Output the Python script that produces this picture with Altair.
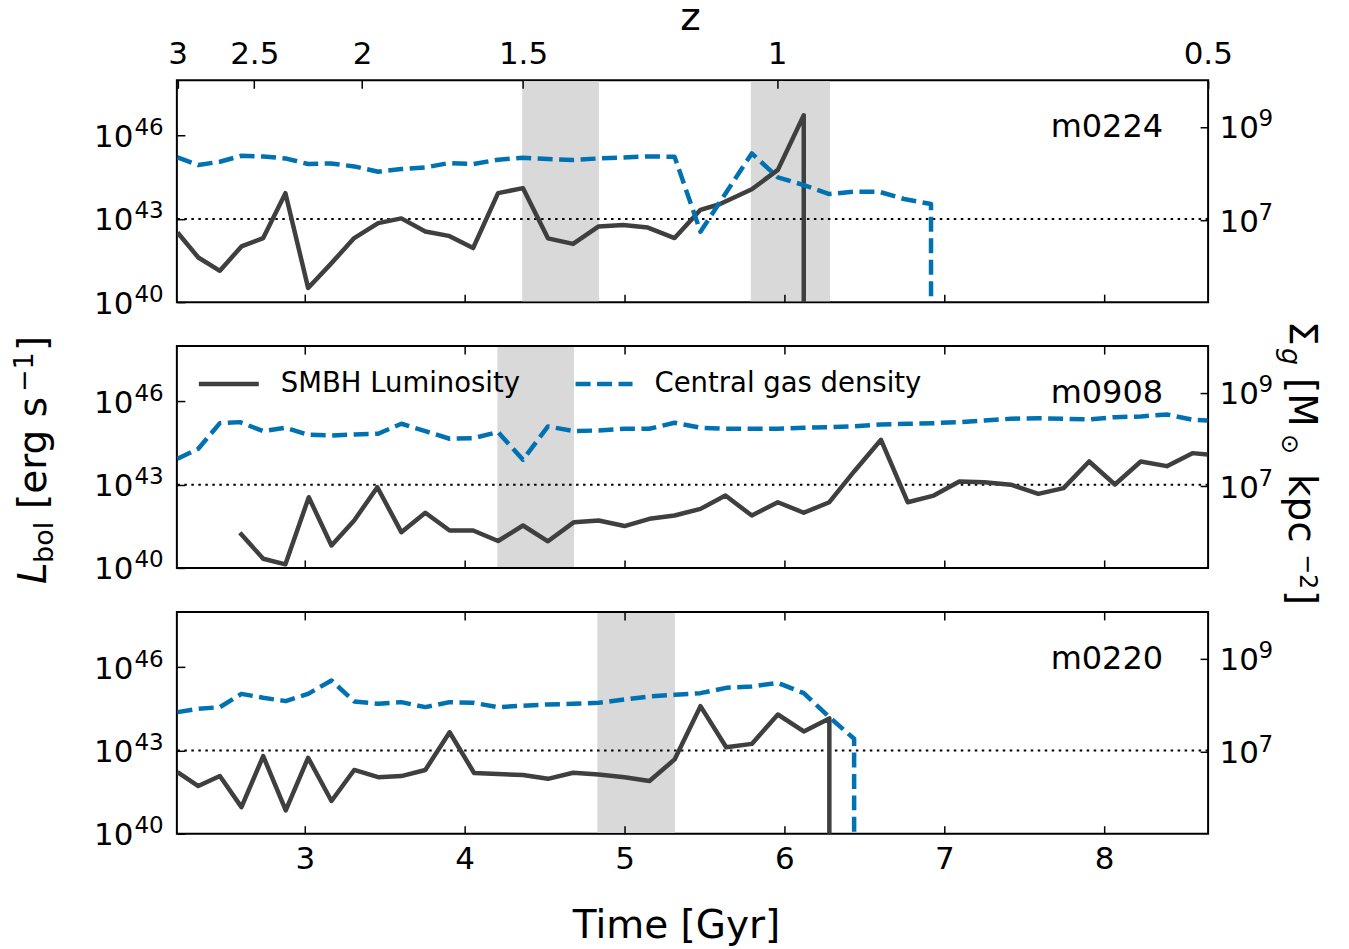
import altair as alt
import pandas as pd

FONT = "DejaVu Sans"
DARK = "#3f3f3f"
BLUE = "#0072b2"
BAND = "#d9d9d9"

# ---------------- data ----------------
# m0224
t_L_m0224 = [2.204, 2.334, 2.469, 2.604, 2.74, 2.879, 3.021, 3.163, 3.309, 3.459, 3.604, 3.754, 3.9, 4.053,
             4.209, 4.365, 4.521, 4.678, 4.838, 4.99, 5.146, 5.313, 5.475, 5.594, 5.796, 5.959, 6.121]
logL_m0224 = [42.51, 41.61, 41.13, 42.01, 42.31, 43.93, 40.51, 41.38, 42.31, 42.85, 43.02, 42.55, 42.39, 41.95,
              43.93, 44.11, 42.30, 42.10, 42.73, 42.78, 42.69, 42.31, 43.33, 43.53, 44.07, 44.77, 46.74]
t_S_m0224 = [2.204, 2.334, 2.469, 2.604, 2.74, 2.879, 3.021, 3.163, 3.309, 3.459, 3.604, 3.754, 3.9, 4.053,
             4.209, 4.365, 4.521, 4.678, 4.838, 4.99, 5.146, 5.313, 5.475, 5.796, 5.959, 6.121, 6.281, 6.436,
             6.592, 6.748, 6.917]
logS_m0224 = [8.348, 8.185, 8.256, 8.384, 8.369, 8.327, 8.207, 8.22, 8.156, 8.042, 8.10, 8.134, 8.228, 8.207,
              8.299, 8.34, 8.314, 8.292, 8.327, 8.348, 8.369, 8.363, 6.758, 8.434, 7.92, 7.757, 7.565, 7.614,
              7.614, 7.458, 7.351]

# m0908
t_L_m0908 = [2.594, 2.74, 2.879, 3.025, 3.167, 3.309, 3.454, 3.604, 3.754, 3.906, 4.053, 4.209, 4.365, 4.521,
             4.684, 4.838, 5.0, 5.156, 5.313, 5.475, 5.631, 5.796, 5.959, 6.121, 6.281, 6.436, 6.604, 6.771,
             6.934, 7.094, 7.25, 7.417, 7.588, 7.746, 7.906, 8.067, 8.229, 8.392, 8.552, 8.646]
logL_m0908 = [41.27, 40.33, 40.13, 42.55, 40.81, 41.71, 42.91, 41.29, 41.99, 41.35, 41.35, 40.97, 41.53, 40.96,
              41.65, 41.71, 41.51, 41.77, 41.89, 42.13, 42.61, 41.89, 42.37, 41.99, 42.37, 43.48, 44.62, 42.37,
              42.61, 43.12, 43.09, 43.0, 42.67, 42.88, 43.84, 43.01, 43.84, 43.67, 44.14, 44.09]
t_S_m0908 = [2.204, 2.334, 2.469, 2.594, 2.74, 2.879, 3.021, 3.167, 3.309, 3.459, 3.604, 3.754, 3.906, 4.053,
             4.209, 4.365, 4.521, 4.684, 4.838, 5.0, 5.156, 5.313, 5.475, 5.631, 5.796, 5.959, 6.121, 6.281,
             6.436, 6.604, 6.771, 6.934, 7.094, 7.25, 7.417, 7.588, 7.746, 7.906, 8.067, 8.229, 8.392, 8.552,
             8.646]
logS_m0908 = [7.588, 7.802, 8.35, 8.372, 8.179, 8.252, 8.102, 8.087, 8.108, 8.123, 8.337, 8.179, 8.016, 8.029,
              8.158, 7.567, 8.28, 8.179, 8.194, 8.23, 8.23, 8.359, 8.252, 8.23, 8.23, 8.23, 8.252, 8.265,
              8.28, 8.322, 8.337, 8.35, 8.372, 8.408, 8.444, 8.457, 8.444, 8.429, 8.479, 8.493, 8.536, 8.423,
              8.408]

# m0220
t_L_m0220 = [2.204, 2.334, 2.469, 2.604, 2.74, 2.881, 3.021, 3.167, 3.309, 3.459, 3.604, 3.754, 3.906, 4.059,
             4.209, 4.365, 4.521, 4.678, 4.838, 5.0, 5.156, 5.313, 5.475, 5.636, 5.796, 5.959, 6.121, 6.281]
logL_m0220 = [42.22, 41.72, 42.08, 40.96, 42.80, 40.84, 42.74, 41.18, 42.30, 42.04, 42.08, 42.30, 43.66, 42.19,
              42.15, 42.12, 41.98, 42.20, 42.14, 42.04, 41.90, 42.68, 44.60, 43.12, 43.24, 44.30, 43.69, 44.16]
t_S_m0220 = [2.204, 2.334, 2.469, 2.604, 2.74, 2.881, 3.021, 3.167, 3.309, 3.459, 3.604, 3.754, 3.906, 4.053,
             4.209, 4.365, 4.521, 4.678, 4.838, 5.0, 5.156, 5.313, 5.475, 5.636, 5.796, 5.959, 6.121, 6.281,
             6.436]
logS_m0220 = [7.854, 7.924, 7.961, 8.245, 8.16, 8.089, 8.245, 8.532, 8.083, 8.031, 8.068, 7.961, 8.068, 8.053,
              7.961, 7.99, 8.019, 8.031, 8.053, 8.125, 8.19, 8.224, 8.26, 8.374, 8.404, 8.481, 8.26, 7.747,
              7.283]

# series that fall to zero at their last snapshot (drawn as a drop off the bottom)
drop_L = {"m0224": True, "m0908": False, "m0220": True}
drop_S = {"m0224": True, "m0908": False, "m0220": True}

# shaded intervals
band_halo = ["m0224", "m0224", "m0908", "m0220"]
band_start = [4.36, 5.79, 4.205, 4.83]
band_end = [4.84, 6.285, 4.684, 5.315]

# axes
time_ticks = [3, 4, 5, 6, 7, 8]
z_labels = ["3", "2.5", "2", "1.5", "1", "0.5"]
z_times = [2.204, 2.684, 3.359, 4.365, 5.954, 8.648]
L_ticks = [1e40, 1e43, 1e46]
L_exp = ["40", "43", "46"]
S_ticks = [1e7, 1e9]
S_exp = ["7", "9"]
L_threshold = 1e43

# ---------------- layout ----------------
W, H = 1032, 222
LW = 4.5
DROP = 1e-30
xscale = alt.Scale(domain=[2.2, 8.65], nice=False, zero=False)
Lscale = alt.Scale(type="log", domain=[1e40, 1e48], nice=False)
Sscale = alt.Scale(type="log", domain=[10 ** 5.25, 1e10], nice=False)


def cond_expr(values, labels, geometric=False):
    expr = f"'{labels[-1]}'"
    pairs = list(zip(values[:-1], values[1:], labels[:-1]))
    for lo, hi, lab in reversed(pairs):
        mid = (lo * hi) ** 0.5 if geometric else (lo + hi) / 2
        expr = f"(datum.value < {mid!r} ? '{lab}' : {expr})"
    return expr


def mk_axis(orient, values, labels=True, ticks=True, expr=None, size=31, pad=12, align=None, loffset=None):
    kw = dict(orient=orient, values=values, domain=False, grid=False, title=None, zindex=1,
              labels=labels, ticks=ticks, labelFont=FONT, labelFontSize=size, labelColor="black",
              labelPadding=pad, labelFlush=False, labelOverlap=False)
    if ticks:
        kw.update(tickSize=8, offset=-8, tickWidth=1.5, tickColor="black")
    else:
        kw.update(tickSize=0, offset=0)
    if expr:
        kw["labelExpr"] = expr
    if align:
        kw["labelAlign"] = align
    if loffset is not None:
        kw["labelOffset"] = loffset
    return alt.Axis(**kw)


L_axis = mk_axis("left", L_ticks, expr="'10'", pad=44, loffset=2)
L_exp_axis = mk_axis("left", L_ticks, ticks=False, expr=cond_expr(L_ticks, L_exp, True), size=23,
                     pad=43, align="left", loffset=-8)
S_axis = mk_axis("right", S_ticks, expr="'10'", pad=11, loffset=2)
S_exp_axis = mk_axis("right", S_ticks, ticks=False, expr=cond_expr(S_ticks, S_exp, True), size=23,
                     pad=50, align="left", loffset=-8)
z_axis = mk_axis("top", z_times, expr=cond_expr(z_times, z_labels), pad=10)
top_time_axis = mk_axis("top", time_ticks, labels=False)


def bottom_axis(labels):
    return mk_axis("bottom", time_ticks, labels=labels, pad=11)


def series(times, logs, drop):
    t = list(times)
    v = [10.0 ** x for x in logs]
    if drop:
        t.append(times[-1])
        v.append(DROP)
    return pd.DataFrame({"t": t, "v": v, "i": list(range(len(t)))})


def text_layer(s, x, y, size, angle=0, align="left", baseline="alphabetic", style="normal"):
    return alt.Chart(pd.DataFrame({"s": [s]})).mark_text(
        font=FONT, fontSize=size, angle=angle, align=align, baseline=baseline,
        fontStyle=style, color="black").encode(x=alt.value(x), y=alt.value(y), text="s:N")


def rule_layer(x, x2, y, y2, color, width, dash=None, opacity=1.0):
    kw = dict(color=color, strokeWidth=width, opacity=opacity)
    if dash:
        kw["strokeDash"] = dash
    return alt.Chart(pd.DataFrame({"k": [0]})).mark_rule(**kw).encode(
        x=alt.value(x), x2=alt.value(x2), y=alt.value(y), y2=alt.value(y2))


bands_df = pd.DataFrame({"halo": band_halo, "start": band_start, "end": band_end})


def panel(name, tL, logL, tS, logS, top_axis, bottom_labels, extras):
    L_df = series(tL, logL, drop_L[name])
    S_df = series(tS, logS, drop_S[name])
    bands = alt.Chart(bands_df[bands_df.halo == name]).mark_rect(color=BAND).encode(
        x=alt.X("start:Q", scale=xscale, axis=top_axis), x2="end:Q",
        y=alt.value(1), y2=alt.value(H - 1))
    thresh = alt.Chart(pd.DataFrame({"v": [L_threshold]})).mark_rule(
        color="black", strokeWidth=2, strokeDash=[2.5, 4.5]).encode(
        y=alt.Y("v:Q", scale=Lscale, axis=L_exp_axis))
    Lline = alt.Chart(L_df).mark_line(color=DARK, strokeWidth=LW, clip=True, strokeJoin="round").encode(
        x=alt.X("t:Q", scale=xscale, axis=bottom_axis(bottom_labels)),
        y=alt.Y("v:Q", scale=Lscale, axis=L_axis), order="i:Q")
    Sline = alt.Chart(S_df).mark_line(color=BLUE, strokeWidth=LW, strokeDash=[15, 6.5], clip=True,
                                      strokeJoin="round").encode(
        x=alt.X("t:Q", scale=xscale, axis=None),
        y=alt.Y("v:Q", scale=Sscale, axis=S_axis), order="i:Q")
    Sexp = alt.Chart(pd.DataFrame({"v": S_ticks})).mark_point(opacity=0).encode(
        y=alt.Y("v:Q", scale=Sscale, axis=S_exp_axis))
    label = text_layer(name, W - 45, 57, 32, align="right")
    return alt.layer(bands, thresh, Lline, Sline, Sexp, label, *extras).resolve_scale(
        y="independent").resolve_axis(x="independent", y="independent").properties(width=W, height=H)


# invisible layout anchors (fix the page extent) + redshift axis title
extras1 = [
    rule_layer(-190, -190, -90, -90, "white", 0, opacity=0.0),
    text_layer("z", 514, -50, 39, align="center"),
]

# legend + y-axis titles in the middle panel
extras2 = [
    rule_layer(22, 82, 38, 38, DARK, LW),
    text_layer("SMBH Luminosity", 104, 38, 27.5, baseline="middle"),
    rule_layer(399, 456, 38, 38, BLUE, LW, dash=[15, 6.5]),
    text_layer("Central gas density", 478, 38, 27.5, baseline="middle"),
    # left title: L_bol [erg s^-1]
    text_layer("L", -131, 238, 39, angle=270, style="italic"),
    text_layer("bol", -124, 217, 27, angle=270),
    text_layer("[erg s", -131, 163, 39, angle=270),
    text_layer("\u22121", -144, 46, 27, angle=270),
    text_layer("]", -131, 5, 39, angle=270),
    # right title: Sigma_g [M_sun kpc^-2]
    text_layer("\u03a3", 1113, -25, 39, angle=90),
    text_layer("g", 1106, 2, 27, angle=90, style="italic"),
    text_layer("[M", 1113, 32, 39, angle=90),
    text_layer("\u2299", 1106, 88, 24, angle=90),
    text_layer("kpc", 1113, 128, 39, angle=90),
    text_layer("\u22122", 1124, 553, 24, angle=90).encode(y=alt.value(208)),
    text_layer("]", 1113, 244, 39, angle=90),
]

extras3 = [
    text_layer("Time [Gyr]", 500, 326, 39, align="center"),
    rule_layer(1172, 1172, 334, 334, "white", 0, opacity=0.0),
]

p1 = panel("m0224", t_L_m0224, logL_m0224, t_S_m0224, logS_m0224, z_axis, False, extras1)
p2 = panel("m0908", t_L_m0908, logL_m0908, t_S_m0908, logS_m0908, top_time_axis, False, extras2)
p3 = panel("m0220", t_L_m0220, logL_m0220, t_S_m0220, logS_m0220, top_time_axis, True, extras3)

chart = alt.vconcat(
    p1, p2, p3, spacing=44, bounds="flush",
    padding={"left": -14, "top": -11, "right": 0, "bottom": 0},
    background="white",
).configure_view(stroke="black", strokeWidth=2)

chart.save("out.html", embed_options={"renderer": "svg", "actions": False})
